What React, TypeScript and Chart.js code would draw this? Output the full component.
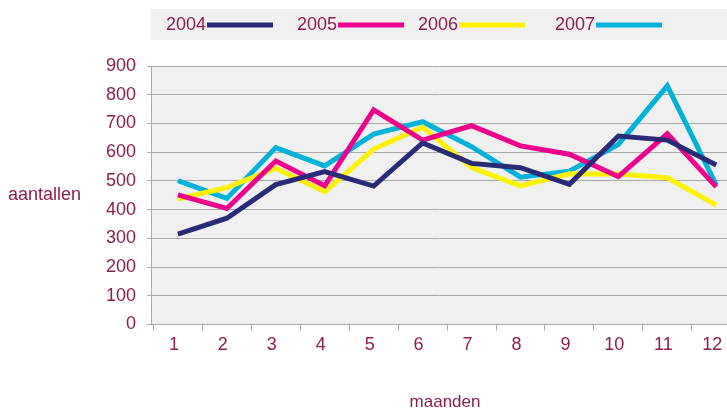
import React, { useEffect, useRef } from "react";
import { Chart, registerables } from "chart.js";

Chart.register(...registerables);

const months = ["1", "2", "3", "4", "5", "6", "7", "8", "9", "10", "11", "12"];
const years = ["2004", "2005", "2006", "2007"];
const values2004 = [315, 370, 487, 532, 482, 632, 561, 546, 488, 656, 642, 555];
const values2005 = [451, 404, 569, 483, 747, 642, 692, 622, 593, 515, 664, 479];
const values2006 = [437, 477, 544, 462, 611, 687, 546, 483, 525, 524, 511, 416];
const values2007 = [501, 439, 616, 552, 663, 706, 619, 513, 534, 627, 831, 486];
const yTicks = [0, 100, 200, 300, 400, 500, 600, 700, 800, 900];
const colors = ["#2b2a76", "#ec008c", "#fff200", "#00b2da"];

const TEXT = "#8b1e4e";
const FONT = "'Liberation Sans', Arial, sans-serif";
const GRID = "#a8a8a8";

const decorPlugin = {
  id: "decor",
  beforeDraw(chart: any) {
    const { ctx, chartArea } = chart;
    ctx.save();
    ctx.fillStyle = "#f0f0f0";
    ctx.fillRect(chartArea.left, chartArea.top, chartArea.right - chartArea.left, chartArea.bottom - chartArea.top);
    // legend band
    ctx.fillRect(chartArea.left, 9, chartArea.right - chartArea.left, 31);
    ctx.restore();
  },
  afterDraw(chart: any) {
    const { ctx, chartArea } = chart;
    ctx.save();
    ctx.fillStyle = TEXT;
    ctx.font = `18px ${FONT}`;
    ctx.textBaseline = "middle";
    ctx.textAlign = "left";
    const legendX = [166, 297, 418, 555];
    years.forEach((y, i) => {
      ctx.fillStyle = TEXT;
      ctx.fillText(y, legendX[i], 25);
      const w = ctx.measureText(y).width;
      ctx.strokeStyle = colors[i];
      ctx.lineWidth = 5;
      ctx.beginPath();
      ctx.moveTo(legendX[i] + w + 1, 25);
      ctx.lineTo(legendX[i] + w + 67, 25);
      ctx.stroke();
    });
    ctx.fillStyle = TEXT;
    ctx.fillText("aantallen", 8, (chartArea.top + chartArea.bottom) / 2);
    ctx.font = `17px ${FONT}`;
    ctx.textAlign = "center";
    ctx.fillText("maanden", 445, 402);
    ctx.restore();
  },
};

export default function App() {
  const ref = useRef<HTMLCanvasElement>(null);
  useEffect(() => {
    document.body.style.margin = "0";
    const series = [values2004, values2005, values2006, values2007];
    const chart = new Chart(ref.current!, {
      type: "line",
      data: {
        datasets: series.map((vals, i) => ({
          label: years[i],
          data: vals.map((v, j) => ({ x: j + 1, y: v })),
          borderColor: colors[i],
          backgroundColor: colors[i],
          borderWidth: 5,
          pointRadius: 0,
          tension: 0,
          borderJoinStyle: "miter" as const,
          borderCapStyle: "butt" as const,
          fill: false,
        })),
      },
      options: {
        animation: false,
        responsive: false,
        maintainAspectRatio: false,
        layout: { padding: { top: 66, left: 0, right: 0, bottom: 0 } },
        plugins: { legend: { display: false }, tooltip: { enabled: false } },
        scales: {
          x: {
            type: "linear",
            min: 0.45,
            max: 12.22,
            afterBuildTicks: (scale: any) => {
              scale.ticks = months.map((_, i) => ({ value: i + 1 }));
            },
            afterFit: (scale: any) => {
              scale.height = 409 - 324.5;
              scale.paddingLeft = 0;
              scale.paddingRight = 0;
            },
            ticks: {
              autoSkip: false,
              maxRotation: 0,
              color: TEXT,
              font: { size: 18, family: FONT },
              padding: 4,
              labelOffset: -4,
              callback: (v: any) => months[Math.round(v) - 1],
            },
            grid: {
              drawOnChartArea: false,
              drawTicks: true,
              tickLength: 6,
              offset: true,
              color: GRID,
            },
            border: { display: true, color: GRID, width: 1 },
          },
          y: {
            min: 0,
            max: 900,
            afterBuildTicks: (scale: any) => {
              scale.ticks = yTicks.map((v) => ({ value: v }));
            },
            afterFit: (scale: any) => {
              scale.width = 151;
              scale.paddingTop = 0;
              scale.paddingBottom = 0;
            },
            ticks: {
              color: TEXT,
              font: { size: 18, family: FONT },
              padding: 11,
            },
            grid: { color: GRID, tickLength: 4, lineWidth: 1 },
            border: { display: true, color: GRID, width: 1 },
          },
        },
      },
      plugins: [decorPlugin],
    });
    return () => chart.destroy();
  }, []);
  return (
    <div style={{ width: 727, height: 409 }}>
      <canvas ref={ref} width={727} height={409} style={{ display: "block" }} />
    </div>
  );
}
